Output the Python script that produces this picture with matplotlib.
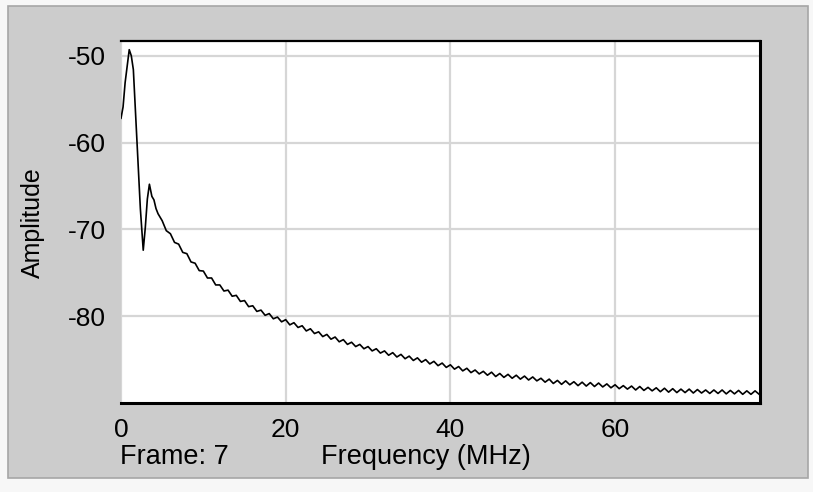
"""Spectrum plot: amplitude vs frequency (frame 7)"""
import matplotlib.pyplot as plt
import numpy as np
from matplotlib.patches import Rectangle

# Low-frequency part (irregular samples)
freq_low = [0.0, 0.25, 0.5, 0.75, 1.0, 1.25, 1.5, 1.75, 2.05, 2.35,
            2.7, 2.95, 3.2, 3.45, 3.75, 4.0, 4.25, 4.5]
amp_low = [-57.2, -55.9, -53.1, -51.2, -49.3, -50.0, -51.6, -56.3, -62.0, -67.6,
           -72.4, -69.8, -66.5, -64.8, -66.2, -66.6, -67.6, -68.2]

# Tail, one sample every 0.5 MHz from 5.0 MHz (rows of 5 MHz)
amp_tail = [
    -69.0, -70.15, -70.5, -71.5, -71.7, -72.65, -72.8, -73.75, -73.9, -74.75,   # 5
    -74.8, -75.6, -75.6, -76.4, -76.4, -77.1, -77.0, -77.7, -77.6, -78.3,       # 10
    -78.2, -78.9, -78.8, -79.45, -79.3, -79.9, -79.7, -80.3, -80.1, -80.65,     # 15
    -80.4, -81.0, -80.75, -81.3, -81.1, -81.7, -81.45, -82.0, -81.8, -82.35,    # 20
    -82.1, -82.65, -82.4, -82.95, -82.7, -83.25, -83.0, -83.5, -83.25, -83.75,  # 25
    -83.5, -84.0, -83.75, -84.25, -84.0, -84.5, -84.2, -84.7, -84.4, -84.9,     # 30
    -84.6, -85.1, -84.8, -85.3, -85.0, -85.5, -85.2, -85.7, -85.4, -85.9,       # 35
    -85.6, -86.1, -85.8, -86.3, -86.0, -86.5, -86.2, -86.65, -86.35, -86.8,     # 40
    -86.45, -86.95, -86.6, -87.05, -86.7, -87.15, -86.8, -87.25, -86.9, -87.35, # 45
    -87.0, -87.45, -87.15, -87.6, -87.25, -87.75, -87.4, -87.85, -87.45, -87.9, # 50
    -87.55, -88.0, -87.6, -88.05, -87.65, -88.1, -87.7, -88.15, -87.8, -88.25,  # 55
    -87.9, -88.35, -88.0, -88.4, -88.05, -88.5, -88.1, -88.55, -88.2, -88.6,    # 60
    -88.25, -88.7, -88.3, -88.75, -88.35, -88.8, -88.4, -88.8, -88.4, -88.85,   # 65
    -88.45, -88.85, -88.5, -88.9, -88.5, -88.9, -88.5, -88.95, -88.55, -88.95,  # 70
    -88.55, -89.0, -88.6, -89.0, -88.6, -89.0,                                  # 75
]
freq_tail = 5.0 + 0.5 * np.arange(len(amp_tail))

freq = np.concatenate([freq_low, freq_tail])
amp = np.concatenate([amp_low, amp_tail])

x_ticks = [0, 20, 40, 60]
y_ticks = [-50, -60, -70, -80]

plt.rcParams['font.family'] = ['Liberation Sans', 'DejaVu Sans']
plt.rcParams['axes.unicode_minus'] = False

fig = plt.figure(figsize=(8.13, 4.92), dpi=100, facecolor='#f7f7f7')
W, H = 813, 492

# Gray window panel behind the axes
fig.patches.append(Rectangle((8 / W, 1 - 478 / H), 800 / W, 472 / H,
                             transform=fig.transFigure, facecolor='#cccccc',
                             edgecolor='#a6a6a6', linewidth=1.2, zorder=-5))

ax = fig.add_axes([121 / W, 1 - 403 / H, (760 - 121) / W, (403 - 41) / H])
ax.set_zorder(2)
ax.plot(freq, amp, color='black', linewidth=1.2)

ax.set_xlim(0, 77.6)
ax.set_ylim(-90.0, -48.3)
ax.set_xticks(x_ticks)
ax.set_yticks(y_ticks)
ax.tick_params(length=0, labelsize=19, pad=11)
ax.grid(True, color='#d6d6d6', linewidth=1.6)
ax.set_axisbelow(True)

ax.spines['left'].set_visible(False)
ax.spines['top'].set_linewidth(1.6)
ax.spines['right'].set_linewidth(2.2)
ax.spines['bottom'].set_linewidth(2.2)

fig.text(33 / W, 1 - 223 / H, "Amplitude", rotation=90, fontsize=18,
         ha='center', va='center')
fig.text(120 / W, 1 - 464 / H, "Frame: 7", fontsize=19.5, ha='left', va='baseline')
fig.text(321 / W, 1 - 464 / H, "Frequency (MHz)", fontsize=19.5, ha='left', va='baseline')

plt.savefig("out.png", dpi=100, facecolor=fig.get_facecolor())
